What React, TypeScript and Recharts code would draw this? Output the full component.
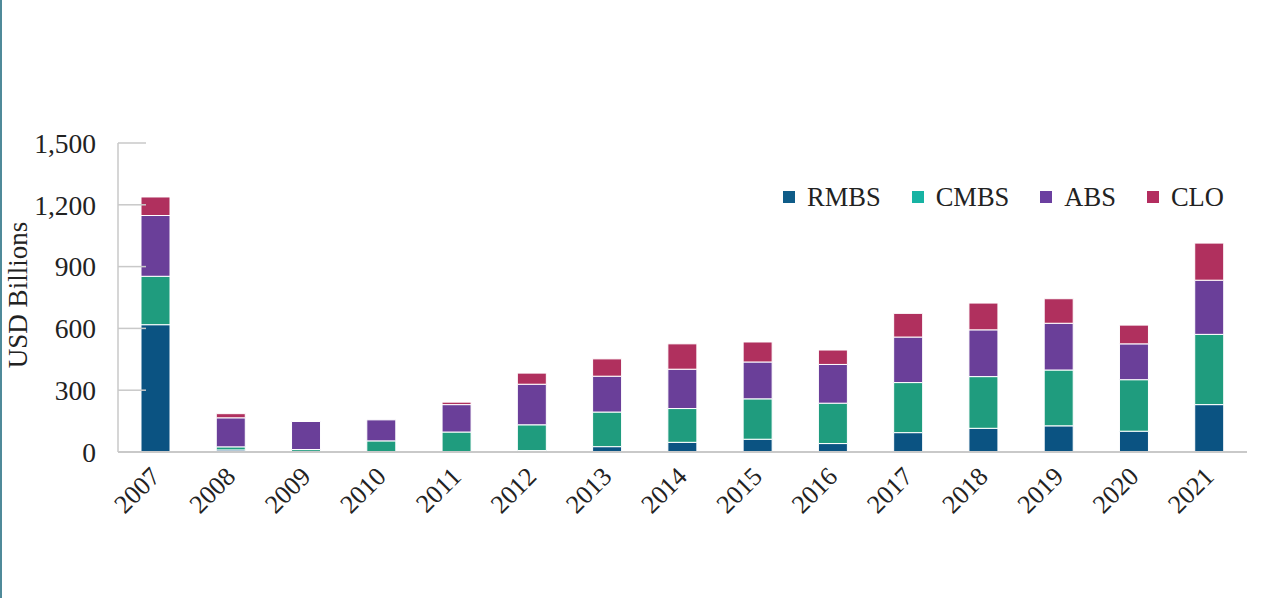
import React from 'react';
import { BarChart, Bar, XAxis, YAxis } from 'recharts';

// issuance by year, USD billions
const years = ['2007', '2008', '2009', '2010', '2011', '2012', '2013', '2014', '2015', '2016', '2017', '2018', '2019', '2020', '2021'];
const rmbs = [618, 10, 3, 0, 0, 7, 26, 47, 62, 41, 94, 115, 127, 101, 230];
const cmbs = [235, 15, 9, 54, 97, 125, 168, 164, 196, 196, 243, 251, 271, 250, 341];
const abs = [295, 141, 136, 102, 133, 197, 174, 191, 179, 188, 221, 227, 227, 174, 263];
const clo = [90, 20, 0, 0, 12, 54, 84, 123, 97, 70, 115, 130, 119, 91, 180];
const yTicks = [0, 300, 600, 900, 1200, 1500];

const series = [
  { key: 'RMBS', values: rmbs, fill: '#0b5382', swatch: '#0f5c88' },
  { key: 'CMBS', values: cmbs, fill: '#1f9c7e', swatch: '#17b3a3' },
  { key: 'ABS', values: abs, fill: '#6a3f99', swatch: '#6b3fa0' },
  { key: 'CLO', values: clo, fill: '#b0305e', swatch: '#b32d5f' },
];

const data = years.map((year, i) => {
  const row: Record<string, string | number> = { year };
  series.forEach((s) => {
    row[s.key] = s.values[i];
  });
  return row;
});

const FONT = '"Liberation Serif", "Times New Roman", serif';
const TEXT = '#222';
const AXIS = '#c9c9c9';

const fmt = (v: number) => v.toLocaleString('en-US');

const YTick = (props: any) => {
  const { x, y, payload } = props;
  return (
    <g>
      <line x1={x + 22} x2={x + 50} y1={y} y2={y} stroke={AXIS} strokeWidth={1.5} />
      <text x={x} y={y} dy="0.355em" textAnchor="end" fontFamily={FONT} fontSize={27.5} fill={TEXT}>
        {fmt(payload.value)}
      </text>
    </g>
  );
};

const XTick = (props: any) => {
  const { x, y, payload } = props;
  return (
    <text
      x={x + 6}
      y={y + 26}
      textAnchor="end"
      transform={`rotate(-45 ${x + 6} ${y + 26})`}
      fontFamily={FONT}
      fontSize={26}
      fill={TEXT}
    >
      {payload.value}
    </text>
  );
};

const YLabel = () => (
  <text
    x={16}
    y={295}
    textAnchor="middle"
    dominantBaseline="central"
    transform="rotate(-90 16 295)"
    fontFamily={FONT}
    fontSize={27}
    fill={TEXT}
  >
    USD Billions
  </text>
);

export default function App() {
  return (
    <div
      style={{
        position: 'absolute',
        left: 0,
        top: 0,
        width: 1278,
        height: 598,
        background: '#fff',
        borderLeft: '2px solid #4f8a99',
        overflow: 'hidden',
      }}
    >
      <BarChart
        width={1278}
        height={598}
        data={data}
        margin={{ top: 143, right: 33, bottom: 46, left: 0 }}
        barSize={29}
      >
        <XAxis
          dataKey="year"
          height={100}
          interval={0}
          tickSize={0}
          tickMargin={0}
          tickLine={false}
          axisLine={{ stroke: AXIS, strokeWidth: 2 }}
          tick={<XTick />}
        />
        <YAxis
          width={116}
          domain={[0, 1500]}
          ticks={yTicks}
          tickSize={0}
          tickMargin={22}
          tickLine={false}
          axisLine={{ stroke: AXIS, strokeWidth: 1.5 }}
          tick={<YTick />}
          label={{ content: () => <YLabel /> }}
        />
        {series.map((s) => (
          <Bar
            key={s.key}
            dataKey={s.key}
            stackId="a"
            fill={s.fill}
            stroke="#fff"
            strokeWidth={1}
            isAnimationActive={false}
          />
        ))}
      </BarChart>
      <div
        style={{
          position: 'absolute',
          left: 781,
          top: 182,
          display: 'flex',
          alignItems: 'center',
          fontFamily: FONT,
          fontSize: 26.5,
          color: TEXT,
          lineHeight: '30px',
        }}
      >
        {series.map((s) => (
          <div key={s.key} style={{ display: 'flex', alignItems: 'center', marginRight: 31 }}>
            <span style={{ width: 12, height: 12, background: s.swatch, display: 'inline-block', marginRight: 12 }} />
            <span>{s.key}</span>
          </div>
        ))}
      </div>
    </div>
  );
}
